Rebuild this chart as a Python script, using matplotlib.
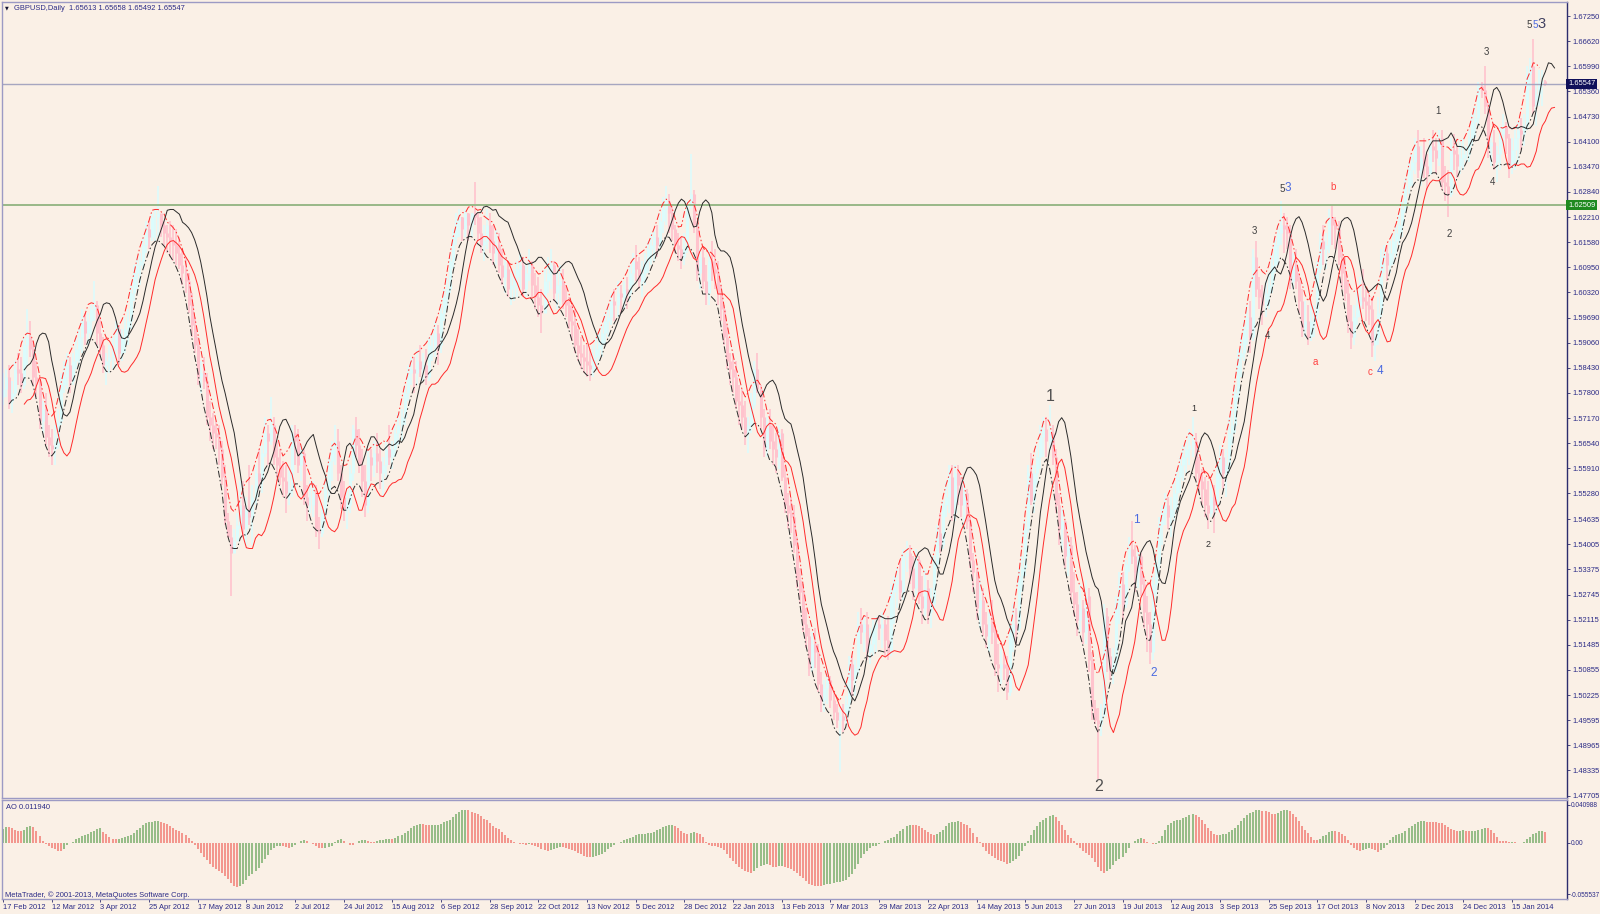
import matplotlib
matplotlib.use('Agg')
import matplotlib.pyplot as plt
import numpy as np
from matplotlib.transforms import blended_transform_factory

plt.rcParams['font.family'] = ['Liberation Sans', 'DejaVu Sans']

# ---------------- data (GBPUSD daily) ----------------
first_open = 1.5770

high_px = [
 1.5830, 1.5840, 1.5850, 1.5810, 1.5860, 1.5880, 1.5870, 1.5920, 1.5990, 1.5960,
 1.5910, 1.5860, 1.5820, 1.5760, 1.5780, 1.5700, 1.5690, 1.5700, 1.5740, 1.5830,
 1.5860, 1.5880, 1.5870, 1.5880, 1.5920, 1.5940, 1.5990, 1.5980, 1.5980, 1.6000,
 1.6060, 1.6010, 1.5970, 1.5920, 1.5880, 1.5900, 1.5920, 1.5960, 1.5950, 1.5940,
 1.5970, 1.5990, 1.6050, 1.6100, 1.6120, 1.6130, 1.6170, 1.6210, 1.6210, 1.6230,
 1.6240, 1.6300, 1.6220, 1.6210, 1.6200, 1.6210, 1.6200, 1.6190, 1.6170, 1.6140,
 1.6120, 1.6080, 1.6030, 1.5970, 1.5920, 1.5860, 1.5870, 1.5830, 1.5760, 1.5730,
 1.5710, 1.5700, 1.5660, 1.5600, 1.5480, 1.5450, 1.5440, 1.5480, 1.5560, 1.5560,
 1.5520, 1.5600, 1.5550, 1.5600, 1.5640, 1.5650, 1.5720, 1.5700, 1.5770, 1.5720,
 1.5660, 1.5640, 1.5610, 1.5600, 1.5600, 1.5700, 1.5700, 1.5690, 1.5650, 1.5640,
 1.5550, 1.5560, 1.5560, 1.5550, 1.5470, 1.5500, 1.5560, 1.5620, 1.5660, 1.5700,
 1.5690, 1.5600, 1.5560, 1.5540, 1.5600, 1.5700, 1.5720, 1.5690, 1.5640, 1.5600,
 1.5640, 1.5640, 1.5660, 1.5680, 1.5640, 1.5620, 1.5660, 1.5700, 1.5660, 1.5700,
 1.5730, 1.5740, 1.5800, 1.5850, 1.5870, 1.5870, 1.5890, 1.5900, 1.5880, 1.5890,
 1.5920, 1.5930, 1.5960, 1.5950, 1.6000, 1.6040, 1.6070, 1.6130, 1.6190, 1.6230,
 1.6240, 1.6220, 1.6240, 1.6230, 1.6230, 1.6310, 1.6230, 1.6220, 1.6200, 1.6240,
 1.6230, 1.6200, 1.6190, 1.6180, 1.6140, 1.6120, 1.6110, 1.6080, 1.6090, 1.6110,
 1.6130, 1.6120, 1.6100, 1.6140, 1.6110, 1.6080, 1.6070, 1.6040, 1.6090, 1.6120,
 1.6140, 1.6110, 1.6080, 1.6100, 1.6090, 1.6050, 1.6020, 1.6000, 1.5990, 1.5940,
 1.5920, 1.5900, 1.5900, 1.5890, 1.5900, 1.5920, 1.5930, 1.5950, 1.5980, 1.6000,
 1.6030, 1.6040, 1.6060, 1.6050, 1.6060, 1.6070, 1.6100, 1.6130, 1.6150, 1.6120,
 1.6110, 1.6130, 1.6160, 1.6180, 1.6190, 1.6200, 1.6230, 1.6270, 1.6300, 1.6280,
 1.6250, 1.6200, 1.6180, 1.6170, 1.6180, 1.6260, 1.6380, 1.6290, 1.6210, 1.6140,
 1.6140, 1.6100, 1.6140, 1.6160, 1.6140, 1.6110, 1.6050, 1.6000, 1.5950, 1.5880,
 1.5880, 1.5860, 1.5800, 1.5790, 1.5760, 1.5720, 1.5780, 1.5860, 1.5880, 1.5800,
 1.5740, 1.5720, 1.5740, 1.5700, 1.5680, 1.5700, 1.5690, 1.5600, 1.5530, 1.5520,
 1.5500, 1.5420, 1.5340, 1.5300, 1.5240, 1.5190, 1.5180, 1.5190, 1.5150, 1.5080,
 1.5060, 1.5090, 1.5070, 1.5030, 1.5000, 1.4990, 1.5000, 1.5020, 1.5120, 1.5120,
 1.5110, 1.5230, 1.5240, 1.5220, 1.5230, 1.5190, 1.5210, 1.5220, 1.5220, 1.5230,
 1.5210, 1.5220, 1.5300, 1.5320, 1.5340, 1.5360, 1.5390, 1.5410, 1.5400, 1.5370,
 1.5390, 1.5370, 1.5320, 1.5340, 1.5310, 1.5290, 1.5370, 1.5450, 1.5480, 1.5510,
 1.5560, 1.5600, 1.5600, 1.5600, 1.5600, 1.5570, 1.5560, 1.5540, 1.5470, 1.5380,
 1.5340, 1.5310, 1.5290, 1.5230, 1.5230, 1.5260, 1.5200, 1.5150, 1.5140, 1.5130,
 1.5120, 1.5200, 1.5250, 1.5240, 1.5340, 1.5370, 1.5460, 1.5600, 1.5630, 1.5600,
 1.5650, 1.5700, 1.5720, 1.5720, 1.5750, 1.5700, 1.5640, 1.5530, 1.5490, 1.5460,
 1.5420, 1.5420, 1.5330, 1.5280, 1.5300, 1.5260, 1.5310, 1.5290, 1.5130, 1.5010,
 1.4990, 1.5000, 1.5250, 1.5240, 1.5140, 1.5140, 1.5270, 1.5330, 1.5330, 1.5360,
 1.5420, 1.5460, 1.5400, 1.5390, 1.5380, 1.5320, 1.5270, 1.5230, 1.5320, 1.5370,
 1.5470, 1.5500, 1.5530, 1.5520, 1.5520, 1.5560, 1.5590, 1.5620, 1.5650, 1.5660,
 1.5690, 1.5720, 1.5680, 1.5620, 1.5590, 1.5570, 1.5560, 1.5560, 1.5550, 1.5600,
 1.5650, 1.5640, 1.5640, 1.5720, 1.5740, 1.5800, 1.5890, 1.5920, 1.5960, 1.6000,
 1.6010, 1.6140, 1.6160, 1.6070, 1.6050, 1.6060, 1.6080, 1.6130, 1.6170, 1.6200,
 1.6260, 1.6230, 1.6220, 1.6200, 1.6130, 1.6140, 1.6080, 1.6040, 1.6010, 1.6000,
 1.6000, 1.6000, 1.6110, 1.6180, 1.6200, 1.6180, 1.6240, 1.6250, 1.6220, 1.6210,
 1.6140, 1.6120, 1.6060, 1.6000, 1.6000, 1.6040, 1.6070, 1.6090, 1.6040, 1.6030,
 1.6020, 1.5950, 1.6020, 1.6140, 1.6150, 1.6150, 1.6160, 1.6180, 1.6200, 1.6230,
 1.6260, 1.6320, 1.6360, 1.6380, 1.6420, 1.6440, 1.6400, 1.6420, 1.6380, 1.6420,
 1.6440, 1.6420, 1.6440, 1.6440, 1.6350, 1.6340, 1.6420, 1.6430, 1.6400, 1.6410,
 1.6420, 1.6400, 1.6440, 1.6480, 1.6500, 1.6560, 1.6560, 1.6600, 1.6510, 1.6440,
 1.6440, 1.6400, 1.6450, 1.6480, 1.6460, 1.6430, 1.6420, 1.6440, 1.6460, 1.6470,
 1.6480, 1.6600, 1.6620, 1.6668, 1.6560, 1.6590, 1.6590, 1.65658,
]

low_px = [
 1.5750, 1.5770, 1.5740, 1.5730, 1.5770, 1.5800, 1.5780, 1.5790, 1.5850, 1.5870,
 1.5800, 1.5770, 1.5690, 1.5680, 1.5650, 1.5620, 1.5600, 1.5600, 1.5640, 1.5700,
 1.5780, 1.5790, 1.5780, 1.5800, 1.5840, 1.5850, 1.5880, 1.5900, 1.5900, 1.5920,
 1.5960, 1.5900, 1.5870, 1.5830, 1.5800, 1.5830, 1.5840, 1.5860, 1.5850, 1.5860,
 1.5880, 1.5900, 1.5940, 1.6010, 1.6040, 1.6050, 1.6090, 1.6130, 1.6140, 1.6160,
 1.6160, 1.6170, 1.6170, 1.6150, 1.6130, 1.6120, 1.6110, 1.6100, 1.6090, 1.6050,
 1.6030, 1.5980, 1.5920, 1.5880, 1.5800, 1.5780, 1.5790, 1.5700, 1.5660, 1.5640,
 1.5640, 1.5600, 1.5550, 1.5450, 1.5420, 1.5270, 1.5400, 1.5420, 1.5440, 1.5420,
 1.5400, 1.5450, 1.5400, 1.5500, 1.5540, 1.5530, 1.5620, 1.5600, 1.5650, 1.5600,
 1.5560, 1.5550, 1.5520, 1.5480, 1.5500, 1.5520, 1.5600, 1.5580, 1.5560, 1.5500,
 1.5460, 1.5480, 1.5470, 1.5420, 1.5390, 1.5420, 1.5460, 1.5520, 1.5560, 1.5600,
 1.5560, 1.5490, 1.5460, 1.5440, 1.5480, 1.5560, 1.5620, 1.5580, 1.5520, 1.5470,
 1.5480, 1.5560, 1.5570, 1.5580, 1.5540, 1.5520, 1.5570, 1.5600, 1.5590, 1.5620,
 1.5650, 1.5660, 1.5700, 1.5760, 1.5800, 1.5780, 1.5800, 1.5820, 1.5810, 1.5800,
 1.5810, 1.5860, 1.5870, 1.5850, 1.5880, 1.5960, 1.5990, 1.6030, 1.6090, 1.6150,
 1.6170, 1.6160, 1.6170, 1.6160, 1.6170, 1.6200, 1.6160, 1.6130, 1.6110, 1.6140,
 1.6130, 1.6100, 1.6100, 1.6080, 1.6050, 1.6030, 1.6020, 1.6000, 1.6010, 1.6020,
 1.6040, 1.6020, 1.6020, 1.6060, 1.6020, 1.5990, 1.5970, 1.5930, 1.5980, 1.6030,
 1.6040, 1.6010, 1.5990, 1.6000, 1.5990, 1.5970, 1.5940, 1.5910, 1.5880, 1.5860,
 1.5840, 1.5830, 1.5820, 1.5810, 1.5820, 1.5840, 1.5860, 1.5870, 1.5900, 1.5920,
 1.5950, 1.5960, 1.5970, 1.5980, 1.5990, 1.5990, 1.6010, 1.6050, 1.6060, 1.6040,
 1.6020, 1.6050, 1.6080, 1.6100, 1.6110, 1.6120, 1.6140, 1.6180, 1.6200, 1.6180,
 1.6160, 1.6130, 1.6110, 1.6090, 1.6100, 1.6130, 1.6240, 1.6180, 1.6060, 1.6040,
 1.6040, 1.6000, 1.6000, 1.6060, 1.6040, 1.6000, 1.5960, 1.5900, 1.5840, 1.5800,
 1.5780, 1.5740, 1.5700, 1.5690, 1.5650, 1.5630, 1.5680, 1.5740, 1.5780, 1.5690,
 1.5620, 1.5620, 1.5640, 1.5600, 1.5580, 1.5590, 1.5560, 1.5480, 1.5440, 1.5430,
 1.5380, 1.5290, 1.5250, 1.5180, 1.5140, 1.5070, 1.5080, 1.5090, 1.5030, 1.4980,
 1.4980, 1.5000, 1.4990, 1.4960, 1.4940, 1.4830, 1.4930, 1.4950, 1.4980, 1.5020,
 1.5020, 1.5070, 1.5150, 1.5130, 1.5110, 1.5100, 1.5120, 1.5130, 1.5160, 1.5140,
 1.5120, 1.5110, 1.5120, 1.5200, 1.5240, 1.5260, 1.5260, 1.5330, 1.5300, 1.5260,
 1.5270, 1.5250, 1.5200, 1.5220, 1.5200, 1.5190, 1.5240, 1.5340, 1.5380, 1.5390,
 1.5470, 1.5480, 1.5460, 1.5460, 1.5500, 1.5470, 1.5450, 1.5440, 1.5340, 1.5280,
 1.5210, 1.5190, 1.5170, 1.5140, 1.5130, 1.5150, 1.5070, 1.5030, 1.5050, 1.5060,
 1.5010, 1.5020, 1.5130, 1.5150, 1.5180, 1.5280, 1.5320, 1.5430, 1.5500, 1.5480,
 1.5550, 1.5590, 1.5620, 1.5620, 1.5640, 1.5600, 1.5480, 1.5400, 1.5390, 1.5340,
 1.5320, 1.5260, 1.5220, 1.5170, 1.5180, 1.5150, 1.5150, 1.5080, 1.4960, 1.4950,
 1.4813, 1.4920, 1.5000, 1.5080, 1.5060, 1.5050, 1.5080, 1.5200, 1.5210, 1.5240,
 1.5330, 1.5350, 1.5280, 1.5290, 1.5270, 1.5190, 1.5130, 1.5100, 1.5110, 1.5270,
 1.5330, 1.5400, 1.5450, 1.5440, 1.5420, 1.5460, 1.5480, 1.5530, 1.5560, 1.5580,
 1.5600, 1.5620, 1.5560, 1.5530, 1.5500, 1.5470, 1.5440, 1.5470, 1.5430, 1.5480,
 1.5540, 1.5540, 1.5520, 1.5580, 1.5650, 1.5680, 1.5760, 1.5820, 1.5860, 1.5900,
 1.5880, 1.5910, 1.6020, 1.5990, 1.5950, 1.5970, 1.5990, 1.6030, 1.6080, 1.6100,
 1.6150, 1.6130, 1.6140, 1.6040, 1.6040, 1.6040, 1.5980, 1.5920, 1.5920, 1.5900,
 1.5910, 1.5920, 1.5960, 1.6080, 1.6100, 1.6090, 1.6130, 1.6150, 1.6140, 1.6100,
 1.6040, 1.6010, 1.5930, 1.5890, 1.5900, 1.5950, 1.5970, 1.5990, 1.5960, 1.5950,
 1.5870, 1.5860, 1.5900, 1.5970, 1.6080, 1.6060, 1.6080, 1.6100, 1.6120, 1.6150,
 1.6170, 1.6230, 1.6280, 1.6300, 1.6330, 1.6320, 1.6300, 1.6320, 1.6290, 1.6330,
 1.6360, 1.6330, 1.6350, 1.6290, 1.6260, 1.6220, 1.6270, 1.6340, 1.6320, 1.6330,
 1.6340, 1.6360, 1.6360, 1.6400, 1.6420, 1.6450, 1.6520, 1.6480, 1.6370, 1.6350,
 1.6340, 1.6310, 1.6340, 1.6400, 1.6380, 1.6320, 1.6330, 1.6340, 1.6360, 1.6390,
 1.6400, 1.6440, 1.6540, 1.6480, 1.6450, 1.6500, 1.6500, 1.65492,
]

close_px = [
 1.5790, 1.5820, 1.5760, 1.5780, 1.5840, 1.5830, 1.5800, 1.5900, 1.5920, 1.5890,
 1.5820, 1.5810, 1.5710, 1.5740, 1.5670, 1.5650, 1.5640, 1.5650, 1.5710, 1.5800,
 1.5820, 1.5850, 1.5810, 1.5860, 1.5890, 1.5920, 1.5960, 1.5930, 1.5960, 1.5990,
 1.6000, 1.5930, 1.5900, 1.5850, 1.5860, 1.5870, 1.5890, 1.5940, 1.5880, 1.5920,
 1.5940, 1.5960, 1.6030, 1.6080, 1.6100, 1.6110, 1.6150, 1.6190, 1.6170, 1.6220,
 1.6220, 1.6230, 1.6200, 1.6180, 1.6170, 1.6160, 1.6150, 1.6130, 1.6100, 1.6080,
 1.6060, 1.6000, 1.5950, 1.5900, 1.5820, 1.5830, 1.5810, 1.5720, 1.5700, 1.5680,
 1.5670, 1.5640, 1.5570, 1.5460, 1.5420, 1.5380, 1.5410, 1.5450, 1.5500, 1.5440,
 1.5490, 1.5470, 1.5520, 1.5580, 1.5560, 1.5630, 1.5680, 1.5660, 1.5700, 1.5620,
 1.5600, 1.5570, 1.5560, 1.5530, 1.5540, 1.5680, 1.5660, 1.5600, 1.5630, 1.5520,
 1.5500, 1.5500, 1.5530, 1.5440, 1.5430, 1.5480, 1.5540, 1.5610, 1.5640, 1.5660,
 1.5580, 1.5520, 1.5490, 1.5500, 1.5580, 1.5690, 1.5650, 1.5600, 1.5560, 1.5500,
 1.5620, 1.5600, 1.5630, 1.5610, 1.5580, 1.5600, 1.5640, 1.5620, 1.5640, 1.5680,
 1.5700, 1.5720, 1.5780, 1.5830, 1.5840, 1.5830, 1.5860, 1.5840, 1.5850, 1.5820,
 1.5900, 1.5900, 1.5930, 1.5900, 1.5980, 1.6020, 1.6040, 1.6110, 1.6170, 1.6210,
 1.6220, 1.6190, 1.6230, 1.6200, 1.6230, 1.6220, 1.6180, 1.6150, 1.6160, 1.6200,
 1.6160, 1.6130, 1.6150, 1.6100, 1.6070, 1.6090, 1.6040, 1.6050, 1.6070, 1.6090,
 1.6100, 1.6040, 1.6080, 1.6100, 1.6050, 1.6020, 1.6000, 1.5980, 1.6060, 1.6080,
 1.6100, 1.6030, 1.6050, 1.6060, 1.6010, 1.6000, 1.5960, 1.5950, 1.5900, 1.5880,
 1.5870, 1.5860, 1.5850, 1.5840, 1.5870, 1.5890, 1.5900, 1.5930, 1.5960, 1.5970,
 1.6010, 1.6000, 1.6030, 1.6020, 1.6040, 1.6030, 1.6080, 1.6110, 1.6090, 1.6060,
 1.6080, 1.6110, 1.6140, 1.6150, 1.6170, 1.6150, 1.6210, 1.6240, 1.6260, 1.6230,
 1.6190, 1.6150, 1.6140, 1.6120, 1.6140, 1.6250, 1.6280, 1.6200, 1.6080, 1.6120,
 1.6060, 1.6030, 1.6110, 1.6090, 1.6080, 1.6030, 1.5990, 1.5920, 1.5860, 1.5840,
 1.5820, 1.5760, 1.5750, 1.5720, 1.5680, 1.5700, 1.5750, 1.5840, 1.5790, 1.5720,
 1.5640, 1.5700, 1.5660, 1.5640, 1.5620, 1.5680, 1.5570, 1.5500, 1.5480, 1.5470,
 1.5400, 1.5310, 1.5280, 1.5200, 1.5170, 1.5090, 1.5150, 1.5130, 1.5050, 1.5010,
 1.5040, 1.5060, 1.5010, 1.4980, 1.4960, 1.4970, 1.4960, 1.5000, 1.5100, 1.5060,
 1.5090, 1.5200, 1.5180, 1.5200, 1.5130, 1.5150, 1.5190, 1.5200, 1.5190, 1.5200,
 1.5160, 1.5130, 1.5280, 1.5300, 1.5310, 1.5280, 1.5370, 1.5380, 1.5340, 1.5290,
 1.5360, 1.5270, 1.5240, 1.5290, 1.5230, 1.5250, 1.5350, 1.5430, 1.5400, 1.5500,
 1.5520, 1.5570, 1.5480, 1.5580, 1.5550, 1.5500, 1.5530, 1.5460, 1.5360, 1.5330,
 1.5240, 1.5260, 1.5200, 1.5170, 1.5200, 1.5180, 1.5100, 1.5090, 1.5100, 1.5090,
 1.5030, 1.5180, 1.5200, 1.5190, 1.5320, 1.5340, 1.5440, 1.5580, 1.5510, 1.5580,
 1.5620, 1.5670, 1.5690, 1.5660, 1.5680, 1.5620, 1.5500, 1.5440, 1.5460, 1.5370,
 1.5400, 1.5280, 1.5250, 1.5210, 1.5240, 1.5180, 1.5270, 1.5110, 1.4990, 1.4960,
 1.4950, 1.4970, 1.5220, 1.5120, 1.5090, 1.5100, 1.5250, 1.5300, 1.5250, 1.5350,
 1.5390, 1.5370, 1.5330, 1.5370, 1.5300, 1.5230, 1.5200, 1.5130, 1.5300, 1.5350,
 1.5450, 1.5480, 1.5500, 1.5470, 1.5490, 1.5530, 1.5570, 1.5600, 1.5620, 1.5640,
 1.5650, 1.5660, 1.5580, 1.5560, 1.5540, 1.5500, 1.5480, 1.5520, 1.5500, 1.5580,
 1.5620, 1.5580, 1.5600, 1.5680, 1.5700, 1.5780, 1.5870, 1.5880, 1.5940, 1.5970,
 1.5920, 1.6120, 1.6040, 1.6020, 1.6000, 1.6030, 1.6050, 1.6100, 1.6150, 1.6180,
 1.6200, 1.6190, 1.6180, 1.6060, 1.6100, 1.6060, 1.6010, 1.5940, 1.5960, 1.5920,
 1.5960, 1.5980, 1.6090, 1.6160, 1.6140, 1.6150, 1.6220, 1.6200, 1.6190, 1.6120,
 1.6080, 1.6030, 1.5960, 1.5920, 1.5970, 1.6000, 1.6020, 1.6010, 1.6000, 1.5990,
 1.5900, 1.5920, 1.5980, 1.6120, 1.6130, 1.6100, 1.6130, 1.6160, 1.6180, 1.6200,
 1.6240, 1.6300, 1.6340, 1.6360, 1.6400, 1.6340, 1.6370, 1.6350, 1.6330, 1.6400,
 1.6390, 1.6370, 1.6420, 1.6310, 1.6300, 1.6280, 1.6390, 1.6380, 1.6350, 1.6370,
 1.6380, 1.6380, 1.6420, 1.6460, 1.6470, 1.6550, 1.6540, 1.6500, 1.6400, 1.6410,
 1.6360, 1.6380, 1.6430, 1.6450, 1.6420, 1.6350, 1.6390, 1.6420, 1.6440, 1.6430,
 1.6450, 1.6580, 1.6600, 1.6500, 1.6530, 1.6560, 1.65613, 1.65547,
]

# AO values of the first 33 bars (history before the chart start)
ao_head = [
 0.0149, 0.0167, 0.0167, 0.0160, 0.0141, 0.0130, 0.0123, 0.0141, 0.0171, 0.0182,
 0.0167, 0.0130, 0.0074, 0.0019, -0.0019, -0.0037, -0.0056, -0.0074, -0.0089, -0.0093,
 -0.0074, -0.0030, -0.0007, 0.0011, 0.0037, 0.0052, 0.0067, 0.0082, 0.0097, 0.0112,
 0.0126, 0.0149, 0.0156,
]

date_labels = [
 '17 Feb 2012', '12 Mar 2012', '3 Apr 2012', '25 Apr 2012', '17 May 2012', '8 Jun 2012',
 '2 Jul 2012', '24 Jul 2012', '15 Aug 2012', '6 Sep 2012', '28 Sep 2012', '22 Oct 2012',
 '13 Nov 2012', '5 Dec 2012', '28 Dec 2012', '22 Jan 2013', '13 Feb 2013', '7 Mar 2013',
 '29 Mar 2013', '22 Apr 2013', '14 May 2013', '5 Jun 2013', '27 Jun 2013', '19 Jul 2013',
 '12 Aug 2013', '3 Sep 2013', '25 Sep 2013', '17 Oct 2013', '8 Nov 2013', '2 Dec 2013',
 '24 Dec 2013', '15 Jan 2014',
]
date_step = 16

price_ticks = [
 1.67250, 1.66620, 1.65990, 1.65360, 1.64730, 1.64100, 1.63470, 1.62840, 1.62210,
 1.61580, 1.60950, 1.60320, 1.59690, 1.59060, 1.58430, 1.57800, 1.57170, 1.56540,
 1.55910, 1.55280, 1.54635, 1.54005, 1.53375, 1.52745, 1.52115, 1.51485, 1.50855,
 1.50225, 1.49595, 1.48965, 1.48335, 1.47705,
]
ao_ticks = [0.040988, 0.0, -0.055537]
ao_tick_labels = ['0.040988', '0.00', '-0.055537']

bid_line = 1.65547
level_line = 1.62509

wave_labels = [
 ('1', 344.2, 1.5770, 11.5, '#505050'),
 ('2', 360.3, 1.4793, 11.5, '#505050'),
 ('1', 372.5, 1.5462, 8.5, '#4a6ae0'),
 ('2', 378.4, 1.5078, 8.5, '#4a6ae0'),
 ('1', 391.5, 1.5740, 6.5, '#303030'),
 ('2', 396.1, 1.5399, 6.5, '#303030'),
 ('3', 411.2, 1.6186, 7, '#404040'),
 ('4', 415.5, 1.5923, 7, '#404040'),
 ('5', 420.4, 1.6291, 7, '#404040'),
 ('3', 422.4, 1.6294, 8.5, '#4a6ae0'),
 ('b', 437.2, 1.6296, 7, '#ff4040'),
 ('a', 431.3, 1.5858, 7, '#ff4040'),
 ('c', 449.4, 1.5833, 7, '#ff4040'),
 ('4', 452.7, 1.5835, 8.5, '#4a6ae0'),
 ('1', 471.7, 1.6487, 7, '#404040'),
 ('2', 475.3, 1.6178, 7, '#404040'),
 ('3', 487.5, 1.6635, 7, '#404040'),
 ('4', 489.5, 1.6309, 7, '#404040'),
 ('5', 501.6, 1.6702, 7, '#404040'),
 ('5', 503.6, 1.6702, 7, '#4a6ae0'),
 ('3', 505.6, 1.6705, 10.5, '#404060'),
]

# ---------------- derived series ----------------
n = min(len(high_px), len(low_px), len(close_px))
H = np.array(high_px[:n]); L = np.array(low_px[:n]); C = np.array(close_px[:n])
O = np.r_[first_open, C[:-1]]
idx = np.arange(n)

def sma(a, p):
    out = np.full(len(a), np.nan)
    out[p - 1:] = np.convolve(a, np.ones(p) / p, mode='valid')
    return out

ma_h = sma(H, 5)
ma_l = sma(L, 5)
med = (H + L) / 2
ao = sma(med, 5) - sma(med, 34)
k = len(ao_head)
ao[:k] = ao_head
ao_up = np.r_[True, ao[1:] > ao[:-1]]

# ---------------- figure ----------------
W, Hpx = 1600, 914
BG = '#faf0e6'
NAVY = '#2a2a86'
fig = plt.figure(figsize=(16, 9.14), dpi=100)
fig.patch.set_facecolor(BG)

def fy(y):
    return 1 - y / Hpx

ax = fig.add_axes([2 / W, fy(797.5), 1565 / W, (797.5 - 2) / Hpx])
ax2 = fig.add_axes([2 / W, fy(898.7), 1565 / W, (898.7 - 800) / Hpx], sharex=ax)
for a in (ax, ax2):
    a.set_facecolor(BG)
    for s in ('left', 'top', 'bottom'):
        a.spines[s].set_color('#9c9ac4')
        a.spines[s].set_linewidth(1.0)
    a.spines['right'].set_color('#2c2c6e')
    a.spines['right'].set_linewidth(1.0)

ax.set_xlim(-0.33, 514.1)
ax.set_ylim(1.47658, 1.67601)

# candles
pink = '#ffc3cd'
cyan = '#dcfcfc'
up = C >= O
ax.vlines(idx[up], L[up], H[up], color=cyan, lw=1.2, zorder=1)
ax.vlines(idx[~up], L[~up], H[~up], color=pink, lw=1.2, zorder=1)
ax.vlines(idx[up], O[up], C[up], color=cyan, lw=2.2, zorder=1)
ax.vlines(idx[~up], O[~up], C[~up], color=pink, lw=2.2, zorder=1)

# envelope moving averages
dd = (0, (7, 2.5, 1.5, 2.5))
ax.plot(idx - 2, ma_h, color='#ff2a2a', lw=0.7, ls=dd, zorder=3)
ax.plot(idx - 2, ma_l, color='#2a2a2a', lw=0.7, ls=dd, zorder=3)
ax.plot(idx + 3, ma_h, color='#2a2a2a', lw=0.7, zorder=3)
ax.plot(idx + 3, ma_l, color='#ff2a2a', lw=0.7, zorder=3)

# horizontal lines
ax.axhline(bid_line, color='#a6a6c0', lw=1.0, zorder=2)
ax.axhline(level_line, color='#98b888', lw=1.4, zorder=2)

# wave labels
for t, xi, yp, fs, col in wave_labels:
    ax.text(xi, yp, t, fontsize=fs, color=col, ha='center', va='center', zorder=4)

# price axis
ax.yaxis.tick_right()
ax.set_yticks(price_ticks)
ax.set_yticklabels(['%.5f' % v for v in price_ticks])
ax.tick_params(axis='y', direction='out', length=2.2, width=0.6, color='#2c2c6e',
               labelsize=5.4, labelcolor=NAVY, pad=1.4)
ax.tick_params(axis='x', bottom=False, labelbottom=False)

tr = blended_transform_factory(ax.transAxes, ax.transData)
ax.text(1.0007, bid_line, '%.5f' % bid_line, transform=tr, fontsize=5.4,
        color='white', ha='left', va='center', clip_on=False, zorder=6,
        bbox=dict(boxstyle='square,pad=0.25', fc='#10105a', ec='none'))
ax.text(1.0007, level_line, '%.5f' % level_line, transform=tr, fontsize=5.4,
        color='white', ha='left', va='center', clip_on=False, zorder=6,
        bbox=dict(boxstyle='square,pad=0.25', fc='#1f8a1f', ec='none'))

# AO panel
ax2.set_ylim(-0.0606, 0.0460)
green = '#7aae6c'
red = '#f27c74'
ax2.vlines(idx[ao_up], 0, ao[ao_up], color=green, lw=1.1)
ax2.vlines(idx[~ao_up], 0, ao[~ao_up], color=red, lw=1.1)
ax2.yaxis.tick_right()
ax2.set_yticks(ao_ticks)
ax2.set_yticklabels(ao_tick_labels)
ax2.tick_params(axis='y', direction='out', length=2.0, width=0.6, color='#2c2c6e',
                labelsize=4.7, labelcolor=NAVY, pad=0.8)
pos = [i * date_step for i in range(len(date_labels))]
ax2.set_xticks(pos)
ax2.set_xticklabels(date_labels)
for lbl in ax2.get_xticklabels():
    lbl.set_horizontalalignment('left')
ax2.tick_params(axis='x', direction='out', length=2.5, width=0.6, color='#2c2c6e',
                labelsize=5.4, labelcolor=NAVY, pad=1.5)

# header texts
fig.text(5 / W, fy(8), '▼', fontsize=3.5, color='#101030', ha='left', va='center',
         family=['DejaVu Sans'])
fig.text(14 / W, fy(8), 'GBPUSD,Daily  1.65613 1.65658 1.65492 1.65547', fontsize=5.4,
         color=NAVY, ha='left', va='center')
fig.text(6 / W, fy(807.5), 'AO 0.011940', fontsize=5.4, color=NAVY, ha='left', va='center')
fig.text(5 / W, fy(895), 'MetaTrader, © 2001-2013, MetaQuotes Software Corp.', fontsize=5.4,
         color=NAVY, ha='left', va='center')

fig.savefig('out.png', dpi=100, facecolor=BG)
